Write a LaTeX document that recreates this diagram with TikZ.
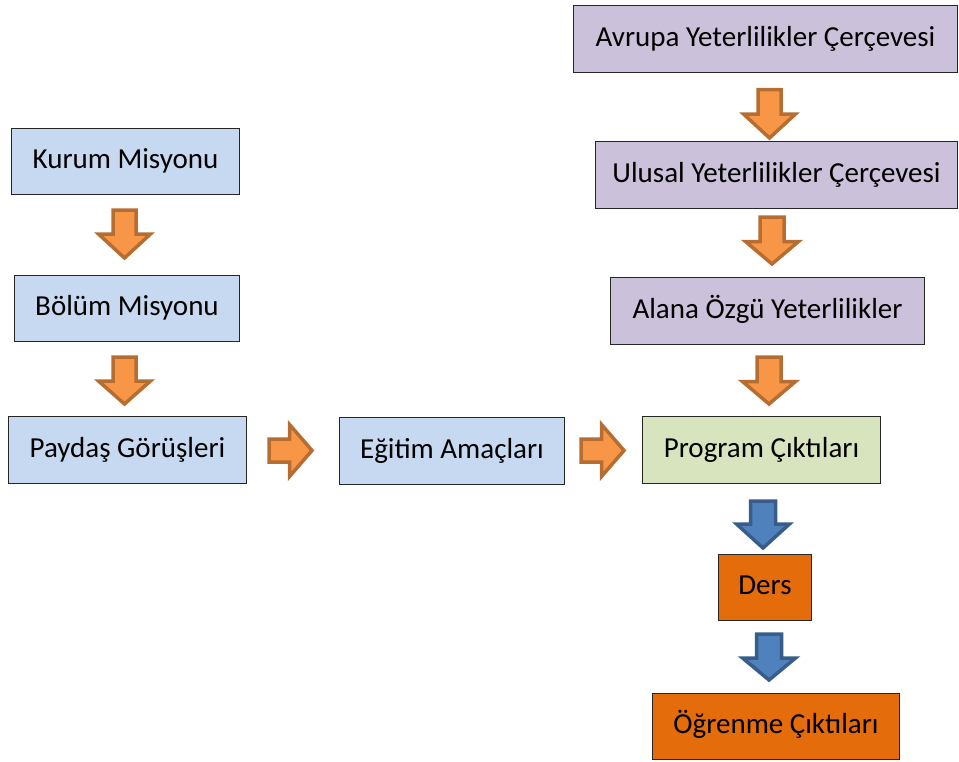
\documentclass[tikz,border=0pt]{standalone}
\usepackage{fontspec}
\setmainfont{Carlito}
\definecolor{boxblue}{HTML}{C6D9F1}
\definecolor{boxpurple}{HTML}{CCC1DA}
\definecolor{boxgreen}{HTML}{D7E4BD}
\definecolor{boxorange}{HTML}{E46C0A}
\definecolor{arrfill}{HTML}{F79646}
\definecolor{arrline}{HTML}{B66D31}
\definecolor{barrfill}{HTML}{4F81BD}
\definecolor{barrline}{HTML}{385D8A}
\tikzset{
  box/.style={draw=black!85, line width=1.3pt, inner sep=0pt, text height=19pt, text depth=5pt, font=\fontsize{29}{34}\selectfont},
  bluebox/.style={box, fill=boxblue},
  purplebox/.style={box, fill=boxpurple},
  greenbox/.style={box, fill=boxgreen},
  orangebox/.style={box, fill=boxorange},
  oarrow/.style={fill=arrfill, draw=arrline, line width=3.5pt, line join=miter},
  barrow/.style={fill=barrfill, draw=barrline, line width=3.5pt, line join=miter},
}
% box: name, style, x1, y1, x2, y2, text
\newcommand\mybox[7]{\node[#2, minimum width={(#5)-(#3)-1.3}, minimum height={(#6)-(#4)-1.3}] (#1) at ({((#3)+(#5))/2},{((#4)+(#6))/2}) {#7};}
% down arrow: style, cx, top, headstart, tip, shaft half, head half
\newcommand\downarr[7]{\draw[#1] ({#2-#6},#3) -- ({#2+#6},#3) -- ({#2+#6},#4) -- ({#2+#7},#4) -- (#2,#5) -- ({#2-#7},#4) -- ({#2-#6},#4) -- cycle;}
% right arrow: style, cy, left, headstart, tip, shaft half, head half
\newcommand\rightarr[7]{\draw[#1] (#3,{#2-#6}) -- (#3,{#2+#6}) -- (#4,{#2+#6}) -- (#4,{#2+#7}) -- (#5,#2) -- (#4,{#2-#7}) -- (#4,{#2-#6}) -- cycle;}
\begin{document}
\begin{tikzpicture}[x=1pt,y=-1pt]
\useasboundingbox (0,0) rectangle (959,761);
\mybox{kurum}{bluebox}{11}{128}{240}{195}{Kurum Misyonu}
\mybox{bolum}{bluebox}{14}{275}{240}{342}{Bölüm Misyonu}
\mybox{paydas}{bluebox}{8}{416}{247}{484}{Paydaş Görüşleri}
\mybox{egitim}{bluebox}{339}{417}{565}{485}{Eğitim Amaçları}
\mybox{program}{greenbox}{642}{416}{881}{484}{Program Çıktıları}
\mybox{avrupa}{purplebox}{573}{5}{958}{73}{Avrupa Yeterlilikler Çerçevesi}
\mybox{ulusal}{purplebox}{595}{141}{958}{209}{Ulusal Yeterlilikler Çerçevesi}
\mybox{alana}{purplebox}{610}{277}{925}{345}{Alana Özgü Yeterlilikler}
\mybox{ders}{orangebox}{718}{554}{812}{621}{Ders}
\mybox{ogrenme}{orangebox}{652}{693}{900}{760}{Öğrenme Çıktıları}
% arrows
\downarr{oarrow}{124.5}{210}{234}{258}{11.5}{26}
\downarr{oarrow}{124.5}{357}{381}{404}{11.5}{26}
\downarr{oarrow}{769.5}{89.5}{114}{138}{11.5}{26}
\downarr{oarrow}{772}{217}{241.5}{264}{12}{26.5}
\downarr{oarrow}{769}{357}{381.5}{404}{12}{26.5}
\rightarr{oarrow}{450.5}{269}{289.5}{312}{11.5}{26}
\rightarr{oarrow}{450.5}{581}{601.5}{624}{11.5}{26}
\downarr{barrow}{763}{501}{524}{548}{12.5}{26.5}
\downarr{barrow}{769}{634}{658}{680}{12.5}{26.5}
\end{tikzpicture}
\end{document}
